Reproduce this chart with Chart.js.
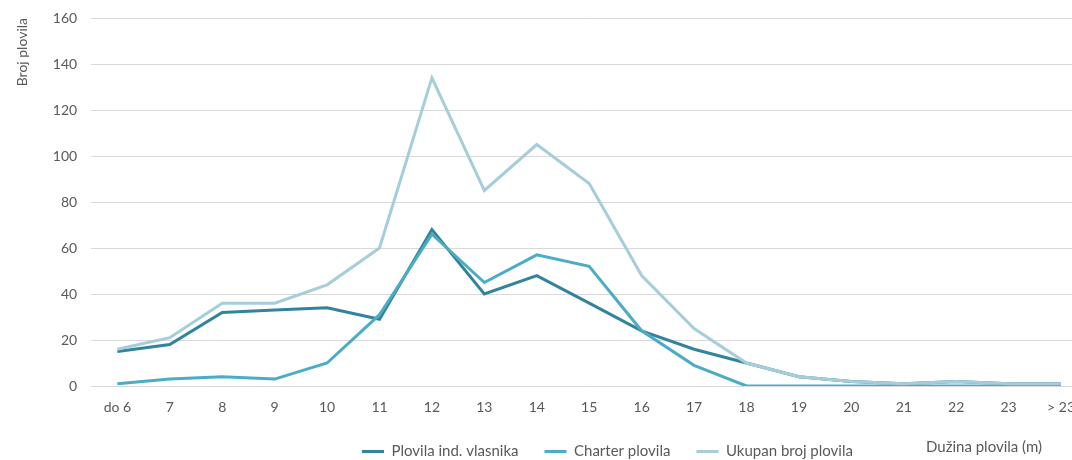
<!DOCTYPE html>
<html>
<head>
<meta charset="utf-8">
<script src="https://cdn.jsdelivr.net/npm/chart.js@4"></script>
<style>
  html, body { margin: 0; padding: 0; background: #fff; overflow: hidden; }
  #wrap { width: 1088px; height: 460px; position: relative; }
</style>
</head>
<body>
<div id="wrap"><canvas id="chart"></canvas></div>
<script>
// kategorije (dužina plovila)
const categories = ['do 6', '7', '8', '9', '10', '11', '12', '13', '14', '15', '16', '17', '18', '19', '20', '21', '22', '23', '> 23'];

// broj plovila po seriji
const indVlasnika = [15, 18, 32, 33, 34, 29, 68, 40, 48, 36, 24, 16, 10, 4, 2, 1, 2, 1, 1];
const charter = [1, 3, 4, 3, 10, 31, 66, 45, 57, 52, 24, 9, 0, 0, 0, 0, 0, 0, 0];
const ukupno = [16, 21, 36, 36, 44, 60, 134, 85, 105, 88, 48, 25, 10, 4, 2, 1, 2, 1, 1];

const yTicks = { min: 0, max: 160, step: 20 };

const FONT = 'Lato, "Open Sans", sans-serif';
const TEXT = '#595959';

// legenda i naslov x-osi stoje u istom redu na dnu
const sidePlugin = {
  id: 'sideBits',
  afterInit(chart) {
    const lg = chart.legend;
    const fit = lg.fit.bind(lg);
    lg.fit = function () { fit(); this.height = 44; };
  },
  afterLayout(chart) {
    const lg = chart.legend;
    const w = lg.right - lg.left;
    lg.left = 336;
    lg.right = 336 + w;
    lg.top = 418;
  },
  afterDraw(chart) {
    const ctx = chart.ctx;
    ctx.save();
    ctx.font = '15px ' + FONT;
    ctx.fillStyle = TEXT;
    ctx.textAlign = 'left';
    ctx.textBaseline = 'middle';
    ctx.fillText('Dužina plovila (m)', 926, 447);
    ctx.restore();
  }
};

const config = {
  type: 'line',
  data: {
    labels: categories,
    datasets: [
      { label: 'Plovila ind. vlasnika', data: indVlasnika, borderColor: '#31849B', backgroundColor: '#31849B', borderWidth: 3, order: 3 },
      { label: 'Charter plovila', data: charter, borderColor: '#4BACC6', backgroundColor: '#4BACC6', borderWidth: 3, order: 2 },
      { label: 'Ukupan broj plovila', data: ukupno, borderColor: '#A5CEDA', backgroundColor: '#A5CEDA', borderWidth: 3, order: 1 }
    ]
  },
  options: {
    responsive: true,
    maintainAspectRatio: false,
    animation: false,
    elements: {
      line: { tension: 0 },
      point: { radius: 0 }
    },
    layout: { padding: { left: 14, top: 18, right: 0, bottom: 0 } },
    scales: {
      x: {
        offset: true,
        grid: { display: false, drawTicks: false },
        border: { display: false },
        ticks: { color: TEXT, font: { family: FONT, size: 14 }, padding: 13, maxRotation: 0 },
        afterFit(scale) { scale.height = 30; }
      },
      y: {
        min: yTicks.min,
        max: yTicks.max,
        grid: { color: '#D9D9D9', drawTicks: false },
        border: { display: false },
        ticks: { stepSize: yTicks.step, color: TEXT, font: { family: FONT, size: 14 }, padding: 14 },
        title: {
          display: true,
          text: 'Broj plovila',
          align: 'end',
          color: TEXT,
          font: { family: FONT, size: 14 },
          padding: { top: 0, bottom: 8 }
        },
        afterFit(scale) { scale.paddingTop = 0; }
      }
    },
    plugins: {
      legend: {
        position: 'bottom',
        align: 'start',
        labels: {
          usePointStyle: true,
          pointStyle: 'line',
          pointStyleWidth: 22,
          padding: 26,
          color: TEXT,
          font: { family: FONT, size: 15 },
          sort: (a, b) => a.datasetIndex - b.datasetIndex
        }
      },
      tooltip: { enabled: false }
    }
  },
  plugins: [sidePlugin]
};

new Chart(document.getElementById('chart'), config);
</script>
</body>
</html>
